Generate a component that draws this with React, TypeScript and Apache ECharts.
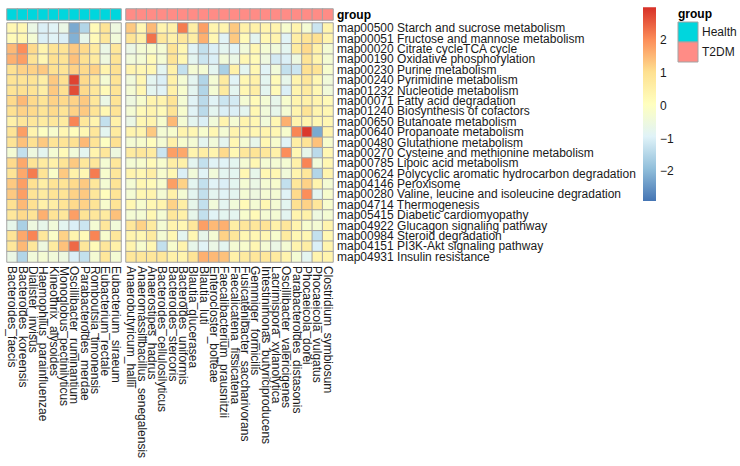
import React, { useEffect, useRef } from "react";
import * as echarts from "echarts";

const rowLabels = [
  "map00500 Starch and sucrose metabolism",
  "map00051 Fructose and mannose metabolism",
  "map00020 Citrate cycleTCA cycle",
  "map00190 Oxidative phosphorylation",
  "map00230 Purine metabolism",
  "map00240 Pyrimidine metabolism",
  "map01232 Nucleotide metabolism",
  "map00071 Fatty acid degradation",
  "map01240 Biosynthesis of cofactors",
  "map00650 Butanoate metabolism",
  "map00640 Propanoate metabolism",
  "map00480 Glutathione metabolism",
  "map00270 Cysteine and methionine metabolism",
  "map00785 Lipoic acid metabolism",
  "map00624 Polycyclic aromatic hydrocarbon degradation",
  "map04146 Peroxisome",
  "map00280 Valine, leucine and isoleucine degradation",
  "map04714 Thermogenesis",
  "map05415 Diabetic cardiomyopathy",
  "map04922 Glucagon signaling pathway",
  "map00984 Steroid degradation",
  "map04151 PI3K-Akt signaling pathway",
  "map04931 Insulin resistance",
];

const healthTaxa = [
  "Bacteroides_faecis",
  "Bacteroides_koreensis",
  "Dialister_invisus",
  "Haemophilus_parainfluenzae",
  "Kineothrix_alysoides",
  "Monoglobus_pectinilyticus",
  "Oscillibacter_ruminantium",
  "Parabacteroides_merdae",
  "Romboutsia_timonensis",
  "Eubacterium_rectale",
  "Eubacterium_siraeum",
];

const t2dmTaxa = [
  "Anaerobutyricum_hallii",
  "Anaeromassilibacillus_senegalensis",
  "Anaerostipes_hadrus",
  "Bacteroides_cellulosilyticus",
  "Bacteroides_stercoris",
  "Bacteroides_uniformis",
  "Blautia_glucerasea",
  "Blautia_luti",
  "Enterocloster_bolteae",
  "Faecalibacterium_prausnitzii",
  "Faecalicatena_fissicatena",
  "Fusicatenibacter_saccharivorans",
  "Gemmiger_formicilis",
  "Intestinimonas_butyriciproducens",
  "Lacrimispora_xylanolytica",
  "Oscillibacter_valericigenes",
  "Parabacteroides_distasonis",
  "Phocaeicola_dorei",
  "Phocaeicola_vulgatus",
  "Clostridium_symbiosum",
];

// rows follow rowLabels, columns follow healthTaxa
const healthValues = [
  [0.3, 0.3, -0.6, -1.0, -0.9, -0.6, -2.2, -1.5, 0.2, 0.9, -0.5],
  [0.2, 0.3, -0.3, -1.0, -0.9, -1.0, -2.1, -0.7, 0.2, 0.8, -0.4],
  [1.5, 2.0, 1.1, 0.4, 0.9, 0.9, 1.3, 1.1, 0.7, -0.6, 0.8],
  [1.6, 1.8, 0.9, 0.3, 1.0, 0.9, 1.4, 1.0, 0.7, -0.5, 0.9],
  [1.0, 1.2, 1.2, 1.3, 1.0, 0.9, 1.2, 1.1, 1.2, 0.4, 1.0],
  [0.9, 0.9, 0.9, 0.6, 1.3, 1.0, 2.8, 1.1, 0.8, -0.3, 0.9],
  [0.9, 1.0, 0.9, 0.6, 1.3, 1.0, 2.7, 1.1, 0.8, 0.2, 0.9],
  [1.1, 1.5, 1.1, 0.9, 1.2, 1.1, 1.2, 1.3, 0.8, -0.6, 0.9],
  [1.0, 1.2, 1.1, 0.9, 1.1, 0.9, 1.2, 1.3, 0.9, 0.3, 0.9],
  [0.5, 0.8, 0.8, 0.7, 0.8, 0.7, 2.1, 0.8, 0.4, -1.3, 0.5],
  [0.9, 1.8, 0.4, 0.0, -0.2, 0.3, 0.1, 0.3, 0.8, -0.8, 0.7],
  [0.9, 1.4, 1.0, 1.3, 0.9, 0.9, 1.0, 1.5, 0.9, 0.0, 1.0],
  [-0.3, -1.3, -0.5, -0.8, -0.3, 0.2, -0.4, -0.8, 0.4, 0.8, -0.5],
  [1.1, 1.7, 0.9, 0.7, 0.5, 0.9, 1.3, 0.8, 0.8, -0.3, 0.8],
  [0.9, 1.7, 2.2, 0.9, -0.1, 1.3, 0.5, 0.3, 2.2, -0.2, 0.8],
  [1.3, 1.8, 1.0, 0.6, 0.9, 0.9, 1.1, 1.3, 0.8, -0.3, 0.9],
  [1.3, 1.8, 0.9, 0.7, 0.9, 0.9, 1.2, 1.3, 0.8, 0.1, 0.9],
  [1.0, 1.5, 1.0, 0.5, 0.6, 0.9, 1.1, 1.2, 0.9, -0.2, 0.9],
  [0.8, 1.1, 0.9, 1.6, 0.9, 0.8, 1.8, 0.9, 0.8, 0.7, 1.4],
  [-0.7, -1.6, -0.5, -0.7, -0.4, -0.8, -1.0, -1.2, -0.3, 0.8, -0.4],
  [0.9, 1.7, 2.1, 0.8, -0.1, 1.2, 0.4, 0.2, 2.1, -0.2, 0.8],
  [0.8, 1.5, 0.8, -0.5, 0.7, 1.4, 2.4, 0.8, 0.2, 0.8, 0.5],
  [-0.6, -1.5, -0.4, -0.3, -0.4, -0.5, -1.0, -1.3, -0.3, 0.8, -0.3],
];

// rows follow rowLabels, columns follow t2dmTaxa
const t2dmValues = [
  [1.3, 0.3, 1.5, 0.4, 0.5, 2.2, 0.6, 1.8, 0.4, 0.4, 1.3, 0.5, 0.5, 0.4, 0.4, -0.2, 0.4, -0.3, -1.2, 0.4],
  [0.9, 0.5, 2.3, 0.8, 0.5, 0.8, 0.6, 1.6, 0.3, -0.9, 1.3, 0.2, -0.8, 0.3, 0.4, -0.9, 0.6, 0.9, 1.0, 0.4],
  [-0.6, -0.3, -0.2, -0.3, 0.9, 0.3, -0.9, -1.3, -1.0, -0.8, -0.9, -0.4, 0.3, -0.3, -0.4, -0.8, 0.7, 1.1, 0.5, -0.3],
  [-0.4, -0.3, 0.2, -0.3, 0.9, 0.3, -0.8, -1.2, -1.0, -0.4, -0.6, 0.3, 0.2, -0.5, -1.1, -1.0, -0.5, 0.9, 0.4, -0.3],
  [0.4, 0.3, 0.3, -0.8, 0.5, -1.3, -0.3, -0.3, -0.8, -1.6, 0.5, -0.8, 0.3, -0.9, -0.4, -1.3, -1.2, 1.0, 0.9, -0.2],
  [-0.4, 0.3, -0.8, -1.0, 0.5, -0.3, -0.8, -1.5, -0.3, 0.7, -0.9, 0.3, 0.5, -0.8, 0.2, -0.7, 0.4, 0.8, 0.3, -0.4],
  [-0.3, 0.3, -0.8, -0.9, 0.5, -0.2, -0.8, -1.5, -0.3, 0.7, -0.8, 0.3, 0.6, -0.8, 0.2, -1.0, 0.4, 0.7, 0.3, -0.4],
  [-0.5, -0.2, 0.4, 0.4, 0.9, -0.3, -0.9, -1.4, -0.9, -1.2, -1.1, -0.3, 0.2, -0.3, -0.7, -0.2, 0.4, 0.5, 0.4, 0.2],
  [-0.3, 0.2, 0.4, 0.2, 0.9, -0.2, -0.9, -1.4, -0.8, -1.0, -1.0, -0.8, 0.3, -0.4, -0.7, -0.3, 0.4, 0.9, 0.4, 0.3],
  [-0.6, 0.3, 0.4, -0.2, 1.5, -0.3, -0.8, -1.0, -0.4, 0.4, -0.3, 0.4, 0.3, -0.4, 0.3, 1.6, 0.4, 0.4, 0.3, 0.3],
  [0.4, 0.4, 1.3, -0.3, -0.2, 0.4, 0.3, -0.2, 0.3, -0.3, 0.4, 0.3, 0.3, 0.4, 0.3, -0.2, 2.1, 2.9, -2.2, 0.4],
  [-0.3, -0.2, 0.1, -0.3, 0.5, -0.2, -0.3, -0.8, -0.4, -0.8, 0.3, -0.3, -0.7, 0.3, -0.2, -0.9, 0.6, 0.9, 1.4, -0.2],
  [0.7, 0.8, 0.7, -1.2, 1.8, 1.7, 0.4, 0.6, 0.4, 1.1, 0.3, 0.8, 0.9, 0.8, 0.5, 2.0, 0.3, -0.7, -1.4, 0.3],
  [-0.3, -0.2, 0.2, -0.2, 0.6, 0.5, -0.8, -1.3, -0.9, -0.9, -0.8, -0.3, 0.3, -0.3, -0.3, -0.3, 0.5, 2.1, -0.4, 0.3],
  [0.4, 0.3, 0.6, -0.2, 0.3, -1.0, -0.4, -0.9, -0.4, -0.8, -0.8, 0.3, -0.7, 0.3, 0.3, -0.4, 0.4, 0.8, -1.5, 0.4],
  [-0.3, 0.3, 0.2, -0.2, 1.8, 1.2, -0.8, -1.3, -0.9, -1.0, -0.8, -0.3, -0.6, -0.3, -0.2, -1.3, 0.8, 1.2, 0.4, -0.3],
  [-0.3, 0.3, 0.4, -0.3, 0.5, -0.3, -0.8, -1.3, -0.8, -0.9, -0.8, -0.3, -0.5, -0.3, -0.3, -0.9, 1.1, 2.0, -0.8, -0.2],
  [0.3, -0.2, 0.3, 0.4, 1.2, 0.6, -0.7, -1.3, -0.4, -0.8, -0.4, 0.2, -0.3, 0.3, -0.3, -0.8, 1.0, 1.2, 0.8, -0.2],
  [-0.3, -0.3, 0.3, -0.3, 0.8, 0.5, -0.7, -1.3, -0.9, -0.8, -0.8, -0.2, 0.2, -0.3, -0.3, -0.8, 0.4, 0.5, -0.5, -0.3],
  [0.8, 1.2, 0.7, -0.3, 0.4, 0.3, 0.8, 1.8, 1.5, 1.6, 0.6, 0.8, 0.8, 0.9, 0.5, 0.8, 0.4, -0.2, -0.3, 0.4],
  [0.4, 0.3, 0.7, -0.3, 0.3, -0.8, 0.3, -0.7, -0.3, 1.2, 0.8, 0.3, 0.3, 0.3, -0.2, 0.7, 0.3, 0.3, -1.3, 0.3],
  [0.4, -0.2, 0.3, -1.3, -0.2, 0.4, -0.7, -0.9, -0.6, -0.8, -0.3, -0.2, 0.3, -0.3, -0.6, -0.3, 0.4, 0.6, -1.0, 0.4],
  [0.8, 0.8, 0.8, 0.8, 0.5, 0.4, 0.9, 1.6, 1.5, 1.4, 0.5, 0.7, 0.8, 0.8, 0.7, 0.4, -0.3, -0.8, 0.4, 0.4],
];

const groupLevels = ["Health", "T2DM"];
const legendTicks = [2, 1, 0, -1, -2];
const scaleMin = -2.9;
const scaleMax = 3.0;

const palette = ["#4575B4", "#91BFDB", "#E0F3F8", "#FFFFBF", "#FEE090", "#FC8D59", "#D73027"];
const groupColors = ["#00D6DD", "#FF8C86"];
const FONT = "'Liberation Sans', Arial, sans-serif";
const BORDER = "#a3a3a3";

function toCells(values: number[][]) {
  const out: number[][] = [];
  values.forEach((row, r) => row.forEach((v, c) => out.push([c, r, v])));
  return out;
}

export default function App() {
  const ref = useRef<HTMLDivElement>(null);

  useEffect(() => {
    if (!ref.current) return;
    const chart = echarts.init(ref.current, undefined, { renderer: "svg" });

    const barTop = 7.3;
    const barHeight = 193.7;
    const barX = 643;
    const tickY = (v: number) => barTop + ((scaleMax - v) / (scaleMax - scaleMin)) * barHeight;

    const labelStyle = { fontSize: 12, color: "#1a1a1a", fontFamily: FONT };
    const hiddenAxis = { axisLine: { show: false }, axisTick: { show: false }, splitLine: { show: false } };

    const option: any = {
      animation: false,
      backgroundColor: "#ffffff",
      textStyle: { fontFamily: FONT },
      grid: [
        { left: 7, top: 23, width: 114, height: 239, outerBoundsMode: "none" },
        { left: 126, top: 23, width: 207, height: 239, outerBoundsMode: "none" },
        { left: 7, top: 9, width: 114, height: 11, outerBoundsMode: "none" },
        { left: 126, top: 9, width: 207, height: 11, outerBoundsMode: "none" },
      ],
      xAxis: [
        { gridIndex: 0, type: "category", data: healthTaxa, position: "bottom", ...hiddenAxis,
          axisLabel: { ...labelStyle, rotate: -90, interval: 0, margin: 4 } },
        { gridIndex: 1, type: "category", data: t2dmTaxa, position: "bottom", ...hiddenAxis,
          axisLabel: { ...labelStyle, rotate: -90, interval: 0, margin: 4 } },
        { gridIndex: 2, type: "category", data: healthTaxa, show: false },
        { gridIndex: 3, type: "category", data: t2dmTaxa, show: false },
      ],
      yAxis: [
        { gridIndex: 0, type: "category", data: rowLabels, inverse: true, show: false },
        { gridIndex: 1, type: "category", data: rowLabels, inverse: true, position: "right", ...hiddenAxis,
          axisLabel: { ...labelStyle, interval: 0, margin: 4, align: "left" } },
        { gridIndex: 2, type: "category", data: ["group"], show: false },
        { gridIndex: 3, type: "category", data: ["group"], position: "right", ...hiddenAxis,
          axisLabel: { ...labelStyle, fontWeight: "bold", color: "#000", margin: 4, align: "left" } },
      ],
      visualMap: [
        {
          show: false,
          type: "continuous",
          min: scaleMin,
          max: scaleMax,
          seriesIndex: [0, 1],
          inRange: { color: palette },
        },
        {
          show: false,
          type: "piecewise",
          seriesIndex: [2, 3],
          dimension: 2,
          pieces: groupLevels.map((g, i) => ({ value: i, color: groupColors[i], label: g })),
        },
      ],
      series: [
        { type: "heatmap", xAxisIndex: 0, yAxisIndex: 0, data: toCells(healthValues),
          itemStyle: { borderColor: BORDER, borderWidth: 1 }, emphasis: { disabled: true } },
        { type: "heatmap", xAxisIndex: 1, yAxisIndex: 1, data: toCells(t2dmValues),
          itemStyle: { borderColor: BORDER, borderWidth: 1 }, emphasis: { disabled: true } },
        { type: "heatmap", xAxisIndex: 2, yAxisIndex: 2, data: healthTaxa.map((_, i) => [i, 0, 0]),
          itemStyle: { borderColor: BORDER, borderWidth: 1 }, emphasis: { disabled: true } },
        { type: "heatmap", xAxisIndex: 3, yAxisIndex: 3, data: t2dmTaxa.map((_, i) => [i, 0, 1]),
          itemStyle: { borderColor: BORDER, borderWidth: 1 }, emphasis: { disabled: true } },
      ],
      graphic: [
        {
          type: "rect",
          shape: { x: barX, y: barTop, width: 13, height: barHeight },
          style: {
            fill: new echarts.graphic.LinearGradient(0, 0, 0, 1,
              palette.slice().reverse().map((c, i) => ({ offset: i / (palette.length - 1), color: c }))),
          },
        },
        ...legendTicks.map((v) => ({
          type: "text",
          x: 660,
          y: tickY(v),
          style: {
            text: v < 0 ? "\u2212" + Math.abs(v) : String(v),
            fontSize: 12,
            fontFamily: FONT,
            fill: "#1a1a1a",
            verticalAlign: "middle",
            align: "left",
          },
        })),
        {
          type: "text",
          x: 678,
          y: 14,
          style: { text: "group", fontSize: 12, fontWeight: "bold", fontFamily: FONT, fill: "#000", verticalAlign: "middle" },
        },
        ...groupLevels.map((g, i) => ({
          type: "rect",
          shape: { x: 678, y: 22 + i * 20, width: 20, height: 20 },
          style: { fill: groupColors[i], stroke: BORDER, lineWidth: 1 },
        })),
        ...groupLevels.map((g, i) => ({
          type: "text",
          x: 702,
          y: 32 + i * 20,
          style: { text: g, fontSize: 12, fontFamily: FONT, fill: "#1a1a1a", verticalAlign: "middle" },
        })),
      ],
    };

    chart.setOption(option);
    return () => chart.dispose();
  }, []);

  return (
    <div
      ref={ref}
      style={{ position: "fixed", left: 0, top: 0, width: 740, height: 466, background: "#fff" }}
    />
  );
}
